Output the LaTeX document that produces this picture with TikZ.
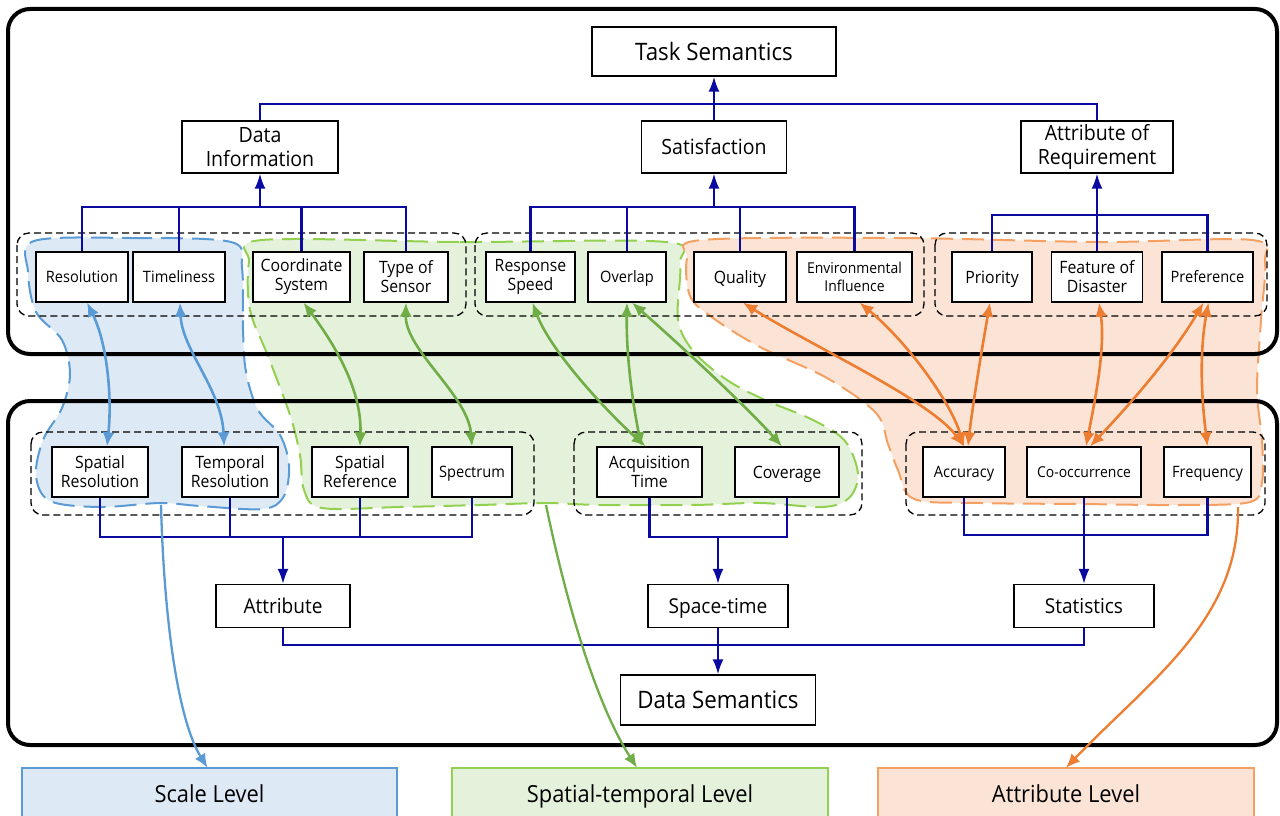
\documentclass[tikz,border=0pt]{standalone}
\usepackage{fontspec}
\setmainfont{Open Sans}[FakeStretch=0.93]
\usetikzlibrary{arrows.meta}
\definecolor{navy}{HTML}{0A0AA0}
\definecolor{arrB}{HTML}{5B9BD5}
\definecolor{arrG}{HTML}{70AD47}
\definecolor{arrO}{HTML}{ED7D31}
\definecolor{lnB}{HTML}{5B9BD5}
\definecolor{lnG}{HTML}{92D050}
\definecolor{lnO}{HTML}{F4A062}
\definecolor{fB}{HTML}{DDEAF6}
\definecolor{fG}{HTML}{E5F2DB}
\definecolor{fO}{HTML}{FBE4D5}
\pgfdeclarelayer{blobs}
\pgfsetlayers{blobs,main}
\tikzset{
  capH/.style={text height=#1, text depth=0pt},
  box/.style={draw=black, line width=1.3pt, fill=white, inner sep=0pt, align=center},
  sm/.style={box, minimum height=50pt, font=\fontsize{17}{19}\selectfont},
  smb/.style={box, minimum height=50pt, font=\fontsize{15.7}{18}\selectfont, capH=11.2pt},
  smc/.style={box, minimum height=50pt, font=\fontsize{15}{17.5}\selectfont},
  mid/.style={box, minimum height=52pt, font=\fontsize{21}{24}\selectfont},
  low/.style={box, minimum height=43pt, font=\fontsize{20.5}{24}\selectfont, capH=14.6pt},
  big/.style={box, minimum height=49pt, font=\fontsize{24}{28}\selectfont, capH=17.1pt},
  frame/.style={draw=black, line width=4pt, rounded corners=22pt},
  grp/.style={draw=black, line width=1.3pt, dash pattern=on 7pt off 4pt, rounded corners=12pt},
  bus/.style={draw=navy, line width=2.1pt},
  busarrow/.style={bus, -{Latex[length=15pt,width=11pt]}},
  tipA/.style={{Latex[length=14pt,width=12pt]}-{Latex[length=14pt,width=12pt]}},
  tipB/.style={-{Latex[length=14pt,width=12pt]}},
  barrow/.style={draw=arrB, line width=2.6pt, tipA},
  garrow/.style={draw=arrG, line width=2.6pt, tipA},
  oarrow/.style={draw=arrO, line width=2.6pt, tipA},
  blarrow/.style={draw=arrB, line width=2.3pt, tipB},
  glarrow/.style={draw=arrG, line width=2.3pt, tipB},
  olarrow/.style={draw=arrO, line width=2.3pt, tipB},
  blobB/.style={fill=fB, draw=lnB, line width=2pt, dash pattern=on 22pt off 9pt},
  blobG/.style={fill=fG, draw=lnG, line width=2pt, dash pattern=on 22pt off 9pt},
  blobO/.style={fill=fO, draw=lnO, line width=2pt, dash pattern=on 22pt off 9pt},
  lvl/.style={inner sep=0pt, minimum height=48pt, font=\fontsize{23.5}{26}\selectfont, text height=20pt, text depth=0pt},
}
\begin{document}
\begin{tikzpicture}[x=1pt,y=-1pt]
\useasboundingbox (0,0) rectangle (1280,816);

% ---------- blobs ----------
\begin{pgfonlayer}{blobs}
\path[blobB] plot[smooth cycle, tension=0.55] coordinates {
 (34,241) (130,238) (231,242) (242,268) (243,330) (246,372) (258,410) (280,435)
 (289,465) (284,496) (263,509) (200,506) (160,503) (100,507) (50,501) (36,476)
 (43,440) (62,408) (70,374) (62,340) (36,312) (28,272)};
\path[blobG] plot[smooth cycle, tension=0.55] coordinates {
 (262,240) (460,242) (666,242) (680,264) (678,320) (694,352) (727,380) (765,400)
 (813,420) (845,441) (858,474) (849,498) (823,507) (760,503) (693,505) (600,505)
 (545,503) (480,505) (400,507) (322,508) (304,490) (300,455) (290,415) (268,356)
 (250,310) (249,262)};
\path[blobO] plot[smooth cycle, tension=0.55] coordinates {
 (702,240) (900,238) (1100,242) (1252,240) (1265,262) (1261,320) (1257,390)
 (1262,440) (1262,482) (1250,502) (1180,505) (1080,504) (980,503) (914,499)
 (898,470) (888,444) (876,413) (827,378) (760,347) (713,318) (690,296) (687,258)};
\end{pgfonlayer}

% ---------- frames ----------
\draw[frame] (8,9) rectangle (1277,354);
\draw[frame] (8,401) rectangle (1277,745);

% ---------- dashed groups ----------
\draw[grp] (17,233) rectangle (466,316);
\draw[grp] (475,233) rectangle (924,316);
\draw[grp] (935,233) rectangle (1267,316);
\draw[grp] (31,432) rectangle (534,515);
\draw[grp] (574,432) rectangle (862,515);
\draw[grp] (906,432) rectangle (1265,515);

% ---------- nodes ----------
\node[big, minimum width=244pt] (task) at (714,51.5) {Task Semantics};
\node[mid, minimum width=156pt] (datainfo) at (260,147) {Data\\Information};
\node[mid, minimum width=145pt, capH=15pt] (satis) at (714,147) {Satisfaction};
\node[mid, minimum width=152pt] (attreq) at (1097,147) {Attribute of\\Requirement};

\node[smb, minimum width=92pt] (res) at (82,277) {Resolution};
\node[smb, minimum width=92pt] (tim) at (179,277) {Timeliness};
\node[sm, minimum width=97pt] (cs) at (301.5,277) {Coordinate\\System};
\node[sm, minimum width=84pt] (tos) at (406,277) {Type of\\Sensor};
\node[sm, minimum width=89pt] (rs) at (530.5,277) {Response\\Speed};
\node[smb, minimum width=78pt] (ovl) at (627,277) {Overlap};
\node[sm, minimum width=92pt, capH=12.1pt] (qual) at (740,277) {Quality};
\node[smc, minimum width=115pt] (env) at (854.5,277) {Environmental\\Influence};
\node[sm, minimum width=80pt, capH=12.1pt] (pri) at (992,277) {Priority};
\node[sm, minimum width=91pt] (fod) at (1097,277) {Feature of\\Disaster};
\node[smb, minimum width=91pt] (pref) at (1207.5,277) {Preference};

\node[sm, minimum width=96pt] (sres) at (100,472) {Spatial\\Resolution};
\node[sm, minimum width=96pt] (tres) at (230,472) {Temporal\\Resolution};
\node[sm, minimum width=96pt] (sref) at (360,472) {Spatial\\Reference};
\node[smb, minimum width=80pt] (spec) at (472,472) {Spectrum};
\node[sm, minimum width=105pt] (acq) at (649.5,472) {Acquisition\\Time};
\node[sm, minimum width=104pt, capH=12.1pt] (cov) at (787,472) {Coverage};
\node[smb, minimum width=82pt] (acc) at (964,472) {Accuracy};
\node[smc, minimum width=114pt, capH=10.7pt] (cooc) at (1084,472) {Co-occurrence};
\node[smb, minimum width=87pt] (freq) at (1207.5,472) {Frequency};

\node[low, minimum width=134pt] (attr) at (283,606) {Attribute};
\node[low, minimum width=140pt] (spt) at (718,606) {Space-time};
\node[low, minimum width=140pt] (stat) at (1084,606) {Statistics};
\node[big, minimum width=195pt, minimum height=50pt] (dsem) at (718,700) {Data Semantics};

% ---------- level boxes ----------
\node[lvl, fill=fB, minimum width=375pt] (scale) at (209.5,792) {Scale Level};
\draw[lnB, line width=1.8pt] ([yshift=-10pt]scale.south west) -- (scale.north west) -- (scale.north east) -- ([yshift=-10pt]scale.south east);
\node[lvl, fill=fG, minimum width=376pt] (stl) at (640,792) {Spatial-temporal Level};
\draw[lnG, line width=1.8pt] ([yshift=-10pt]stl.south west) -- (stl.north west) -- (stl.north east) -- ([yshift=-10pt]stl.south east);
\node[lvl, fill=fO, minimum width=376pt] (attl) at (1066,792) {Attribute Level};
\draw[lnO, line width=1.8pt] ([yshift=-10pt]attl.south west) -- (attl.north west) -- (attl.north east) -- ([yshift=-10pt]attl.south east);

% ---------- blue hierarchy connectors ----------
\coordinate (b0) at (714,104);
\coordinate (b1) at (260,207);
\coordinate (b2) at (714,207);
\coordinate (b3) at (1097,215);
\draw[bus] (datainfo.north) |- (attreq.north |- b0) -- (attreq.north);
\draw[busarrow] (satis.north) -- (task.south);
\draw[bus] (res.north) |- (tos.north |- b1) -- (tos.north);
\draw[bus] (tim.north) -- (tim.north |- b1);
\draw[bus] (cs.north) -- (cs.north |- b1);
\draw[busarrow] (b1) -- (datainfo.south);
\draw[bus] (rs.north) |- (env.north |- b2) -- (env.north);
\draw[bus] (ovl.north) -- (ovl.north |- b2);
\draw[bus] (qual.north) -- (qual.north |- b2);
\draw[busarrow] (b2) -- (satis.south);
\draw[bus] (pri.north) |- (pref.north |- b3) -- (pref.north);
\draw[busarrow] (fod.north) -- (attreq.south);

\coordinate (ba) at (283,537);
\coordinate (bs) at (718,537);
\coordinate (bt) at (1084,535);
\coordinate (bd) at (718,645);
\draw[bus] (sres.south) |- (spec.south |- ba) -- (spec.south);
\draw[bus] (tres.south) -- (tres.south |- ba);
\draw[bus] (sref.south) -- (sref.south |- ba);
\draw[busarrow] (ba) -- (attr.north);
\draw[bus] (acq.south) |- (cov.south |- bs) -- (cov.south);
\draw[busarrow] (bs) -- (spt.north);
\draw[bus] (acc.south) |- (freq.south |- bt) -- (freq.south);
\draw[busarrow] (cooc.south) -- (stat.north);
\draw[bus] (attr.south) |- (stat.south |- bd) -- (stat.south);
\draw[busarrow] (spt.south) -- (dsem.north);

% ---------- colored correspondence arrows ----------
\draw[barrow] ([xshift=5pt]res.south) .. controls (108,345) and (112,400) .. ([xshift=7pt]sres.north);
\draw[barrow] ([xshift=1pt]tim.south) .. controls (182,350) and (222,390) .. ([xshift=-6pt]tres.north);

\draw[garrow] ([xshift=2pt]cs.south) .. controls (335,345) and (362,390) .. (sref.north);
\draw[garrow] (tos.south) .. controls (405,350) and (468,395) .. (spec.north);
\draw[garrow] ([xshift=2pt]rs.south) .. controls (550,350) and (605,410) .. ([xshift=-4pt]acq.north);
\draw[garrow] (ovl.south) .. controls (626,360) and (634,410) .. ([xshift=-8pt]acq.north);
\draw[garrow] ([xshift=5pt]ovl.south) .. controls (680,345) and (745,405) .. ([xshift=-5pt]cov.north);

\draw[oarrow] ([xshift=3pt]qual.south) .. controls (810,345) and (930,400) .. (acc.north);
\draw[oarrow] ([xshift=5pt]env.south) .. controls (905,340) and (950,400) .. (acc.north);
\draw[oarrow] ([xshift=-2pt]pri.south) .. controls (980,360) and (972,410) .. ([xshift=4pt]acc.north);
\draw[oarrow] ([xshift=2pt]fod.south) .. controls (1106,350) and (1093,410) .. ([xshift=2pt]cooc.north);
\draw[oarrow] ([xshift=-4pt]pref.south) .. controls (1170,360) and (1120,415) .. ([xshift=6pt]cooc.north);
\draw[oarrow] ([xshift=1pt]pref.south) .. controls (1198,360) and (1203,410) .. (freq.north);

% ---------- arrows to levels ----------
\coordinate (bsrc) at (161,505);
\coordinate (gsrc) at (546,505);
\coordinate (osrc) at (1238,507);
\draw[blarrow] (bsrc) .. controls (164,620) and (178,720) .. ([xshift=-2pt]scale.north);
\draw[glarrow] (gsrc) .. controls (570,620) and (600,710) .. ([xshift=-3pt]stl.north);
\draw[olarrow] (osrc) .. controls (1240,620) and (1150,680) .. (attl.north);
\end{tikzpicture}
\end{document}
